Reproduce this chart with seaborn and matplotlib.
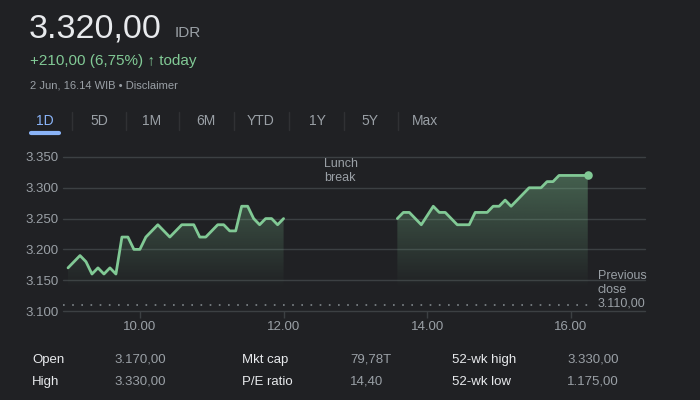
import numpy as np
import pandas as pd
import matplotlib
matplotlib.use("Agg")
import matplotlib.pyplot as plt
import seaborn as sns
from matplotlib.colors import to_rgb
from matplotlib.ticker import FuncFormatter

# intraday prices (IDR), 5 minute samples
morning_times = ["09:00", "09:05", "09:10", "09:15", "09:20", "09:25", "09:30", "09:35",
                 "09:40", "09:45", "09:50", "09:55", "10:00", "10:05", "10:10", "10:15",
                 "10:20", "10:25", "10:30", "10:35", "10:40", "10:45", "10:50", "10:55",
                 "11:00", "11:05", "11:10", "11:15", "11:20", "11:25", "11:30", "11:35",
                 "11:40", "11:45", "11:50", "11:55", "12:00"]
morning_prices = [3170, 3180, 3190, 3180, 3160, 3170, 3160, 3170,
                  3160, 3220, 3220, 3200, 3200, 3220, 3230, 3240,
                  3230, 3220, 3230, 3240, 3240, 3240, 3220, 3220,
                  3230, 3240, 3240, 3230, 3230, 3270, 3270, 3250,
                  3240, 3250, 3250, 3240, 3250]
afternoon_times = ["13:35", "13:40", "13:45", "13:50", "13:55", "14:00", "14:05", "14:10",
                   "14:15", "14:20", "14:25", "14:30", "14:35", "14:40", "14:45", "14:50",
                   "14:55", "15:00", "15:05", "15:10", "15:15", "15:20", "15:25", "15:30",
                   "15:35", "15:40", "15:45", "15:50", "15:55", "16:00", "16:05", "16:10",
                   "16:14"]
afternoon_prices = [3250, 3260, 3260, 3250, 3240, 3255, 3270, 3260,
                    3260, 3250, 3240, 3240, 3240, 3260, 3260, 3260,
                    3270, 3270, 3280, 3270, 3280, 3290, 3300, 3300,
                    3300, 3310, 3310, 3320, 3320, 3320, 3320, 3320,
                    3320]
previous_close = 3110
y_ticks = [3100, 3150, 3200, 3250, 3300, 3350]
x_ticks = [10, 12, 14, 16]
tabs = ["1D", "5D", "1M", "6M", "YTD", "1Y", "5Y", "Max"]
stat_labels = [["Open", "High"], ["Mkt cap", "P/E ratio"], ["52-wk high", "52-wk low"]]
stat_values = [["3.170,00", "3.330,00"], ["79,78T", "14,40"], ["3.330,00", "1.175,00"]]

BG = "#202124"
WHITE = "#e8eaed"
GREY = "#9aa0a6"
GREEN = "#81c995"
GRID = "#3c4043"


def to_hours(times):
    return [int(t[:2]) + int(t[3:]) / 60 for t in times]


df = pd.concat([
    pd.DataFrame({"hour": to_hours(morning_times), "price": morning_prices, "session": "am"}),
    pd.DataFrame({"hour": to_hours(afternoon_times), "price": afternoon_prices, "session": "pm"}),
])

sns.set_theme(style="dark")
plt.rcParams["font.family"] = ["Liberation Sans", "DejaVu Sans"]

fig = plt.figure(figsize=(7, 4), dpi=100, facecolor=BG)
ax = fig.add_axes([63 / 700, 1 - 311 / 400, 582 / 700, 160.2 / 400])
ax.set_facecolor(BG)


def gradient_fill(ax, x, y, top=3330, bottom=3135):
    poly = ax.fill_between(x, y, bottom, color="none", lw=0)
    rgba = np.zeros((200, 1, 4))
    rgba[..., :3] = to_rgb(GREEN)
    rgba[:, 0, 3] = np.linspace(0.4, 0.0, 200)
    im = ax.imshow(rgba, extent=[min(x), max(x), bottom, top], origin="upper",
                   aspect="auto", zorder=1)
    im.set_clip_path(poly.get_paths()[0], ax.transData)


for _, seg in df.groupby("session"):
    gradient_fill(ax, seg["hour"].to_numpy(), seg["price"].to_numpy())

sns.lineplot(data=df, x="hour", y="price", units="session", estimator=None,
             color=GREEN, lw=2, ax=ax, zorder=3)
last = df.iloc[-1]
ax.scatter([last["hour"]], [last["price"]], s=38, color=GREEN, zorder=4, lw=0)

for v in y_ticks:
    ax.axhline(v, color=GRID, lw=1, zorder=0, clip_on=False)
ax.hlines(previous_close, 8.93, 16.27, color="#80868b", lw=1.2, ls=(0, (1, 4.5)), zorder=2)

ax.set_xlim(8.93, 17.03)
ax.set_ylim(3100, 3360)
ax.set_xticks(x_ticks)
ax.xaxis.set_major_formatter(FuncFormatter(lambda v, p: f"{int(v)}.00"))
ax.set_yticks(y_ticks)
ax.yaxis.set_major_formatter(FuncFormatter(lambda v, p: f"{v:,.0f}".replace(",", ".")))
ax.tick_params(axis="x", length=5, width=1, color=GRID, labelcolor=GREY, labelsize=9.5,
               pad=2, bottom=True)
ax.tick_params(axis="y", length=0, labelcolor=GREY, labelsize=9.5, pad=3)
ax.grid(False)
for s in ax.spines.values():
    s.set_visible(False)
ax.set_xlabel("")
ax.set_ylabel("")

# header
fig.text(29 / 700, 1 - 37 / 400, "3.320,00", color=WHITE, fontsize=24.5, va="baseline")
fig.text(175 / 700, 1 - 37 / 400, "IDR", color=GREY, fontsize=11, va="baseline")
fig.text(30 / 700, 1 - 65 / 400, "+210,00 (6,75%) \u2191 today", color=GREEN, fontsize=11,
         va="baseline")
fig.text(30 / 700, 1 - 89 / 400, "2 Jun, 16.14 WIB \u2022 Disclaimer", color=GREY,
         fontsize=8, va="baseline")

tab_x = [45, 99, 152, 206, 261, 317, 370, 425]
for i, (name, x) in enumerate(zip(tabs, tab_x)):
    fig.text(x / 700, 1 - 121 / 400, name, color="#8ab4f8" if i == 0 else GREY,
             fontsize=10, ha="center", va="center")
    if i > 0:
        sep = (tab_x[i - 1] + x) / 2 / 700
        fig.add_artist(plt.Line2D([sep, sep], [1 - 112 / 400, 1 - 130 / 400],
                                  color="#303134", lw=1))
fig.add_artist(plt.Line2D([31 / 700, 59 / 700], [1 - 133 / 400] * 2, color="#8ab4f8",
                          lw=3, solid_capstyle="round"))

fig.text(324 / 700, 1 - 171 / 400, "Lunch\nbreak", color=GREY, fontsize=9,
         va="center", linespacing=1.25)
fig.text(598 / 700, 1 - 290 / 400, "Previous\nclose\n3.110,00", color=GREY, fontsize=9,
         va="center", linespacing=1.2)

# key stats table
col_x = [(32, 114), (242, 350), (452, 567)]
row_y = [360, 382]
for c, (lx, vx) in enumerate(col_x):
    for r, y in enumerate(row_y):
        fig.text(lx / 700, 1 - y / 400, stat_labels[c][r], color=WHITE, fontsize=9.5,
                 va="center")
        fig.text(vx / 700, 1 - y / 400, stat_values[c][r], color=GREY, fontsize=9.5,
                 va="center")

fig.savefig("out.png", dpi=100, facecolor=BG)
